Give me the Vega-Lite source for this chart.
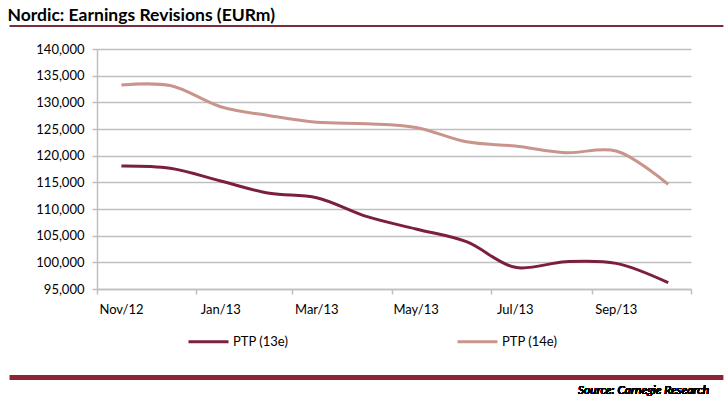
{
  "$schema": "https://vega.github.io/schema/vega-lite/v6.json",
  "background": "white",
  "padding": {"left": 7, "top": 6, "right": 6, "bottom": 2},
  "title": {"text": "Nordic: Earnings Revisions (EURm)", "anchor": "start", "font": "Lato", "fontSize": 17.5, "fontWeight": "bold", "color": "#000000", "offset": 1, "frame": "bounds"},
  "config": {"font": "Lato", "view": {"stroke": null}},
  "width": 594,
  "height": 240,
  "data": {"values": [
    {"date": "2012-11-16", "series": "PTP (13e)", "value": 118060},
    {"date": "2012-12-16", "series": "PTP (13e)", "value": 117630},
    {"date": "2013-01-16", "series": "PTP (13e)", "value": 115250},
    {"date": "2013-02-15", "series": "PTP (13e)", "value": 112940},
    {"date": "2013-03-16", "series": "PTP (13e)", "value": 112120},
    {"date": "2013-04-16", "series": "PTP (13e)", "value": 108560},
    {"date": "2013-05-16", "series": "PTP (13e)", "value": 106250},
    {"date": "2013-06-16", "series": "PTP (13e)", "value": 103870},
    {"date": "2013-07-16", "series": "PTP (13e)", "value": 99060},
    {"date": "2013-08-16", "series": "PTP (13e)", "value": 100120},
    {"date": "2013-09-16", "series": "PTP (13e)", "value": 99810},
    {"date": "2013-10-18", "series": "PTP (13e)", "value": 96190},
    {"date": "2012-11-16", "series": "PTP (14e)", "value": 133250},
    {"date": "2012-12-16", "series": "PTP (14e)", "value": 133150},
    {"date": "2013-01-16", "series": "PTP (14e)", "value": 129180},
    {"date": "2013-02-15", "series": "PTP (14e)", "value": 127500},
    {"date": "2013-03-16", "series": "PTP (14e)", "value": 126250},
    {"date": "2013-04-16", "series": "PTP (14e)", "value": 126000},
    {"date": "2013-05-16", "series": "PTP (14e)", "value": 125300},
    {"date": "2013-06-16", "series": "PTP (14e)", "value": 122600},
    {"date": "2013-07-16", "series": "PTP (14e)", "value": 121800},
    {"date": "2013-08-16", "series": "PTP (14e)", "value": 120560},
    {"date": "2013-09-16", "series": "PTP (14e)", "value": 120875},
    {"date": "2013-10-18", "series": "PTP (14e)", "value": 114630}
  ]},
  "resolve": {"scale": {"x": "independent", "y": "independent"}, "axis": {"x": "independent", "y": "independent"}},
  "layer": [
    {
      "mark": {"type": "line", "interpolate": "catmull-rom", "strokeWidth": 3},
      "encoding": {
        "x": {
          "field": "date", "type": "temporal",
          "scale": {"type": "utc", "domain": [{"year": 2012, "month": 11, "date": 1, "utc": true}, {"year": 2013, "month": 11, "date": 1, "utc": true}]},
          "axis": {
            "title": null,
            "values": [
              {"year": 2012, "month": 11, "date": 1, "utc": true},
              {"year": 2013, "month": 1, "date": 1, "utc": true},
              {"year": 2013, "month": 3, "date": 1, "utc": true},
              {"year": 2013, "month": 5, "date": 1, "utc": true},
              {"year": 2013, "month": 7, "date": 1, "utc": true},
              {"year": 2013, "month": 9, "date": 1, "utc": true},
              {"year": 2013, "month": 11, "date": 1, "utc": true}
            ],
            "format": "%b/%y",
            "labelExpr": "utcyear(datum.value) == 2013 && utcmonth(datum.value) == 10 ? '' : datum.label",
            "labelOffset": 24,
            "labelAlign": "center",
            "labelFlush": false,
            "labelOverlap": false,
            "labelFontSize": 13,
            "labelColor": "#000000",
            "labelPadding": 9,
            "grid": false,
            "domainColor": "#BFBFBF",
            "domainWidth": 1.5,
            "tickColor": "#BFBFBF",
            "tickWidth": 1.5,
            "tickSize": 5
          }
        },
        "y": {
          "field": "value", "type": "quantitative",
          "scale": {"domain": [95000, 140000], "nice": false, "zero": false},
          "axis": {
            "title": null,
            "values": [95000, 100000, 105000, 110000, 115000, 120000, 125000, 130000, 135000, 140000],
            "format": ",.0f",
            "labelFontSize": 13,
            "labelColor": "#000000",
            "labelPadding": 8,
            "labelOverlap": false,
            "grid": true,
            "gridColor": "#BFBFBF",
            "gridWidth": 1.5,
            "domainColor": "#BFBFBF",
            "domainWidth": 1.5,
            "tickColor": "#BFBFBF",
            "tickWidth": 1.5,
            "tickSize": 5,
            "minExtent": 87
          }
        },
        "color": {
          "field": "series", "type": "nominal",
          "scale": {"domain": ["PTP (13e)", "PTP (14e)"], "range": ["#7B1F3B", "#C8948C"]},
          "legend": {
            "title": null,
            "orient": "none",
            "legendX": 90,
            "legendY": 271,
            "direction": "horizontal",
            "symbolType": "stroke",
            "symbolSize": 1600,
            "symbolStrokeWidth": 3,
            "labelFontSize": 13,
            "labelColor": "#000000",
            "labelOffset": 3,
            "columnPadding": 162
          }
        }
      }
    },
    {
      "mark": {"type": "rule", "color": "#7B2B3C", "strokeWidth": 2},
      "encoding": {
        "x": {"datum": -0.1465, "type": "quantitative", "scale": {"domain": [0, 1], "nice": false, "zero": false}, "axis": null},
        "x2": {"datum": 1.0539},
        "y": {"datum": 1.0958, "type": "quantitative", "scale": {"domain": [0, 1], "nice": false, "zero": false}, "axis": null}
      }
    },
    {
      "mark": {"type": "rule", "color": "#8B2535", "strokeWidth": 5},
      "encoding": {
        "x": {"datum": -0.1465, "type": "quantitative", "scale": {"domain": [0, 1], "nice": false, "zero": false}, "axis": null},
        "x2": {"datum": 1.0539},
        "y": {"datum": -0.369, "type": "quantitative", "scale": {"domain": [0, 1], "nice": false, "zero": false}, "axis": null}
      }
    },
    {
      "mark": {"type": "text", "align": "right", "baseline": "middle", "font": "Lato", "fontStyle": "italic", "fontWeight": "normal", "fontSize": 12, "color": "#000000"},
      "encoding": {
        "x": {"datum": 1.0303, "type": "quantitative", "scale": {"domain": [0, 1], "nice": false, "zero": false}, "axis": null},
        "y": {"datum": -0.421, "type": "quantitative", "scale": {"domain": [0, 1], "nice": false, "zero": false}, "axis": null},
        "text": {"value": "Source: Carnegie Research"}
      }
    }
  ]
}
